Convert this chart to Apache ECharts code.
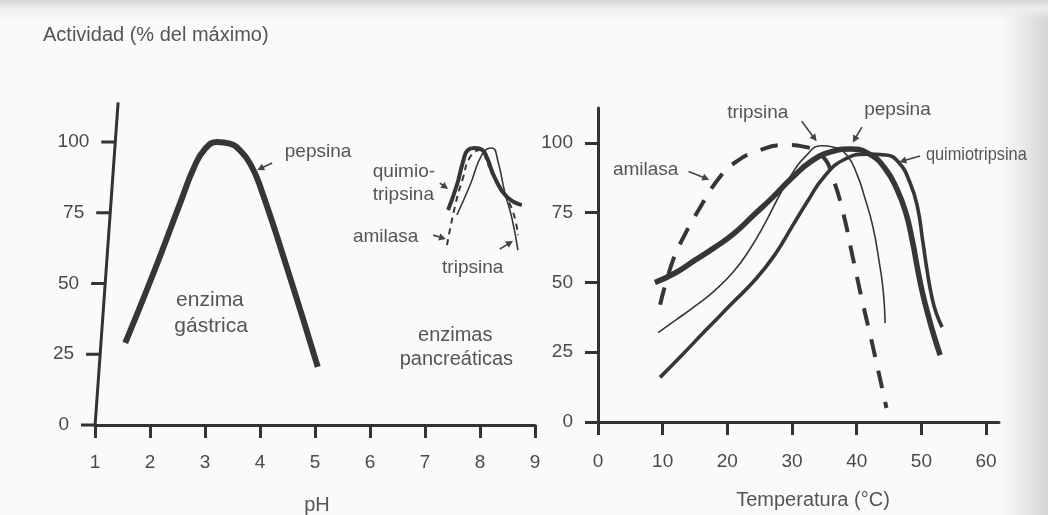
<!DOCTYPE html>
<html>
<head>
<meta charset="utf-8">
<title>Actividad enzimática según pH y temperatura</title>
<script src="https://cdn.jsdelivr.net/npm/echarts@6/dist/echarts.min.js"></script>
<style>
  html, body { margin: 0; padding: 0; width: 1048px; height: 515px; overflow: hidden; }
  body {
    background:
      linear-gradient(to bottom, #d6d6d6 0px, #ededed 8px, rgba(250,250,249,0) 20px),
      linear-gradient(to right, rgba(250,250,249,0) 0px, rgba(250,250,249,0) 1000px, #e4e4e2 1030px, #d4d4d2 1048px),
      #fafaf9;
  }
  #chart { width: 1048px; height: 515px; }
</style>
</head>
<body>
<div id="chart"></div>
<script>
// ---- Data -----------------------------------------------------------------
// Activity (% of maximum) against pH
const pepsinaPH = [
  [1.55, 29], [2.05, 53], [2.55, 78.5], [2.8, 91], [3.0, 97.5], [3.22, 100],
  [3.45, 99.4], [3.65, 96.8], [3.83, 92], [4.0, 84.5], [4.5, 55], [5.05, 20.5]
];
const quimiotripsinaPH = [
  [7.42, 76], [7.58, 84.8], [7.69, 92.9], [7.78, 97.2], [7.91, 97.9], [8.04, 97.2],
  [8.13, 94.3], [8.27, 87.3], [8.49, 80.6], [8.76, 77.7]
];
const amilasaPH = [
  [7.40, 63.6], [7.55, 77.7], [7.69, 87.3], [7.82, 94.7], [8.00, 97.2], [8.15, 91.9],
  [8.42, 82.3], [8.60, 75.3], [8.69, 67.1]
];
const tripsinaPH = [
  [7.58, 74.2], [7.82, 84.8], [8.05, 96.1], [8.22, 97.9], [8.33, 92.9], [8.45, 82.3],
  [8.58, 73.1], [8.69, 61.8]
];

// Activity (% of maximum) against temperature (°C)
const amilasaT = [
  [9.6, 42], [11.6, 58], [13.5, 67.5], [15.3, 75], [18.9, 88], [21.5, 93.5], [24.5, 97],
  [28.9, 99.3], [32, 98.6], [34.8, 95], [36.3, 87.5], [37.9, 75], [39.3, 60], [40.8, 44],
  [42.5, 27], [44.6, 5]
];
const pepsinaT = [
  [8.8, 50], [12, 53.5], [15, 58], [18, 62.5], [21, 67.5], [24, 74], [27, 80.5], [30, 87.5],
  [33, 93.5], [36, 96.8], [39, 97.8], [42, 96], [44.5, 90.5], [46.3, 83], [47.6, 75],
  [48.6, 65], [49.4, 55], [50.2, 46], [51.2, 37], [52, 30.5], [52.9, 24]
];
const quimiotripsinaT = [
  [9.6, 16], [13, 24], [16.5, 32.5], [20.5, 42], [24.5, 51.5], [27.5, 60.5], [30, 70],
  [32.5, 79.5], [35, 88], [38, 94], [41.5, 96], [44.5, 95.7], [46.5, 93], [48.2, 86],
  [49.4, 77], [50.2, 65], [50.9, 54], [51.6, 45], [52.3, 39], [53.2, 34]
];
const tripsinaT = [
  [9.3, 32], [12, 36.5], [15, 41.5], [18, 47], [21, 54], [23.5, 62], [26, 72], [28, 81],
  [30, 89], [32, 95], [34.5, 99], [36.5, 98.5], [38.5, 95.5], [40, 89], [41.3, 80],
  [42.5, 70], [43.5, 57], [44.1, 47], [44.4, 35.5]
];

// Tick values
const activityTicks = [0, 25, 50, 75, 100];
const phTicks = [1, 2, 3, 4, 5, 6, 7, 8, 9];
const tempTicks = [0, 10, 20, 30, 40, 50, 60];

// ---- Styling --------------------------------------------------------------
const FONT = "'Liberation Sans', Arial, Helvetica, sans-serif";
const INK = '#363636';
const AXIS = '#333333';
const TEXT = '#555555';
const TICK_TEXT = '#4a4a4a';

function valueAxis(gridIndex, min, max, ticks, labelMargin, hidden) {
  return {
    type: 'value', gridIndex, min, max,
    axisLine: { show: !hidden, onZero: false, lineStyle: { color: AXIS, width: 3 } },
    axisTick: { show: !hidden, inside: false, length: 13, customValues: ticks,
                lineStyle: { color: AXIS, width: 3 } },
    axisLabel: { show: !hidden, customValues: ticks, color: TICK_TEXT, fontFamily: FONT,
                 fontSize: 19, margin: labelMargin },
    splitLine: { show: false }
  };
}

function curve(name, data, xi, width, dash) {
  return {
    name, type: 'line', xAxisIndex: xi, yAxisIndex: xi, data,
    smooth: 0.5, showSymbol: false, silent: true, z: 3,
    lineStyle: { color: INK, width, type: dash || 'solid', cap: 'butt', join: 'round' }
  };
}

const chart = echarts.init(document.getElementById('chart'), null, { renderer: 'canvas' });

chart.setOption({
  animation: false,
  backgroundColor: 'transparent',
  grid: [
    { left: 95, right: 513, top: 102.4, bottom: 90, outerBoundsMode: 'none', containLabel: false },
    { left: 598, right: 49, top: 108.1, bottom: 93, outerBoundsMode: 'none', containLabel: false }
  ],
  xAxis: [
    valueAxis(0, 1, 9, phTicks, 28),
    valueAxis(1, 0, 62, tempTicks, 30)
  ],
  yAxis: [
    // the pH panel's activity axis is drawn by hand below (it leans slightly)
    valueAxis(0, 0, 114, activityTicks, 26, true),
    valueAxis(1, 0, 112.5, activityTicks, 25)
  ],
  series: [
    curve('pepsina', pepsinaPH, 0, 6),
    curve('quimiotripsina', quimiotripsinaPH, 0, 4),
    curve('amilasa', amilasaPH, 0, 2, [6, 5]),
    curve('tripsina', tripsinaPH, 0, 1.6),
    curve('amilasa', amilasaT, 1, 4, [18, 14]),
    curve('tripsina', tripsinaT, 1, 1.6),
    curve('quimiotripsina', quimiotripsinaT, 1, 3.6),
    curve('pepsina', pepsinaT, 1, 5.5)
  ]
});

// ---- Annotations (placed in data coordinates of each panel) ----------------
function px(g, p) { return chart.convertToPixel({ gridIndex: g }, p); }

function label(g, pos, text, opts) {
  const o = opts || {};
  const p = px(g, pos);
  return {
    type: 'text', x: p[0], y: p[1], silent: true, z: 10,
    scaleX: o.scaleX || 1,
    style: {
      text, fill: o.fill || TEXT, font: (o.size || 19) + 'px ' + FONT,
      align: o.align || 'left', verticalAlign: 'middle'
    }
  };
}

function arrow(g, from, to) {
  const a = px(g, from), b = px(g, to);
  const dx = b[0] - a[0], dy = b[1] - a[1];
  const len = Math.hypot(dx, dy), ux = dx / len, uy = dy / len;
  const hl = 7, hw = 3.6;
  const base = [b[0] - ux * hl, b[1] - uy * hl];
  return [
    { type: 'line', silent: true, z: 10,
      shape: { x1: a[0], y1: a[1], x2: base[0] + ux, y2: base[1] + uy },
      style: { stroke: '#444', lineWidth: 1.6 } },
    { type: 'polygon', silent: true, z: 10,
      shape: { points: [b, [base[0] - uy * hw, base[1] + ux * hw], [base[0] + uy * hw, base[1] - ux * hw]] },
      style: { fill: '#444' } }
  ];
}

// Leaning activity axis of the pH panel: runs from (pH 1, 0) up to (pH 1.42, 114)
function leaningAxis() {
  const foot = px(0, [1, 0]);
  const head = px(0, [1.42, 114]);
  const out = [{
    type: 'line', silent: true, z: 5,
    shape: { x1: foot[0], y1: foot[1] + 1.5, x2: head[0], y2: head[1] },
    style: { stroke: AXIS, lineWidth: 3 }
  }];
  activityTicks.forEach(v => {
    const y = px(0, [1, v])[1];
    const ax = foot[0] + (head[0] - foot[0]) * (v / 114);
    out.push({ type: 'line', silent: true, z: 5,
      shape: { x1: ax - 14, y1: y, x2: ax, y2: y },
      style: { stroke: AXIS, lineWidth: 3 } });
    out.push({ type: 'text', silent: true, z: 5, x: ax - 26, y,
      style: { text: String(v), fill: TICK_TEXT, font: '19px ' + FONT,
               align: 'right', verticalAlign: 'middle' } });
  });
  return out;
}

const graphics = [
  ...leaningAxis(),

  // page title and axis names
  { type: 'text', x: 43, y: 35, silent: true,
    style: { text: 'Actividad (% del máximo)', fill: TEXT, font: '20px ' + FONT, verticalAlign: 'middle' } },
  { type: 'text', x: 317, y: 505, silent: true,
    style: { text: 'pH', fill: TEXT, font: '20px ' + FONT, align: 'center', verticalAlign: 'middle' } },
  { type: 'text', x: 813, y: 500, silent: true,
    style: { text: 'Temperatura (°C)', fill: TEXT, font: '20px ' + FONT, align: 'center', verticalAlign: 'middle' } },

  // pH panel
  label(0, [4.45, 96.5], 'pepsina'),
  ...arrow(0, [4.22, 92.6], [3.95, 90.1]),
  label(0, [3.09, 44], 'enzima', { size: 21, align: 'center' }),
  label(0, [3.11, 35], 'gástrica', { size: 21, align: 'center' }),
  label(0, [6.05, 89.4], 'quimio-'),
  label(0, [6.05, 81.3], 'tripsina'),
  ...arrow(0, [7.27, 85.5], [7.42, 83.4]),
  label(0, [5.69, 66.4], 'amilasa'),
  ...arrow(0, [7.15, 67.1], [7.38, 65.7]),
  label(0, [7.31, 55.5], 'tripsina'),
  ...arrow(0, [8.36, 62.2], [8.60, 65.0]),
  label(0, [7.55, 31.5], 'enzimas', { size: 20, align: 'center' }),
  label(0, [7.57, 23.3], 'pancreáticas', { size: 20, align: 'center' }),

  // temperature panel
  label(1, [24.7, 111], 'tripsina', { align: 'center' }),
  ...arrow(1, [31.5, 107.8], [33.8, 100.6]),
  label(1, [46.3, 112], 'pepsina', { align: 'center' }),
  ...arrow(1, [40.8, 105.7], [39.4, 100.2]),
  label(1, [50.7, 95.7], 'quimiotripsina', { scaleX: 0.86 }),
  ...arrow(1, [49.8, 95.3], [46.6, 93.2]),
  label(1, [2.3, 90.3], 'amilasa'),
  ...arrow(1, [14.0, 89.8], [17.2, 86.8])
];

chart.setOption({ graphic: graphics });
</script>
</body>
</html>
